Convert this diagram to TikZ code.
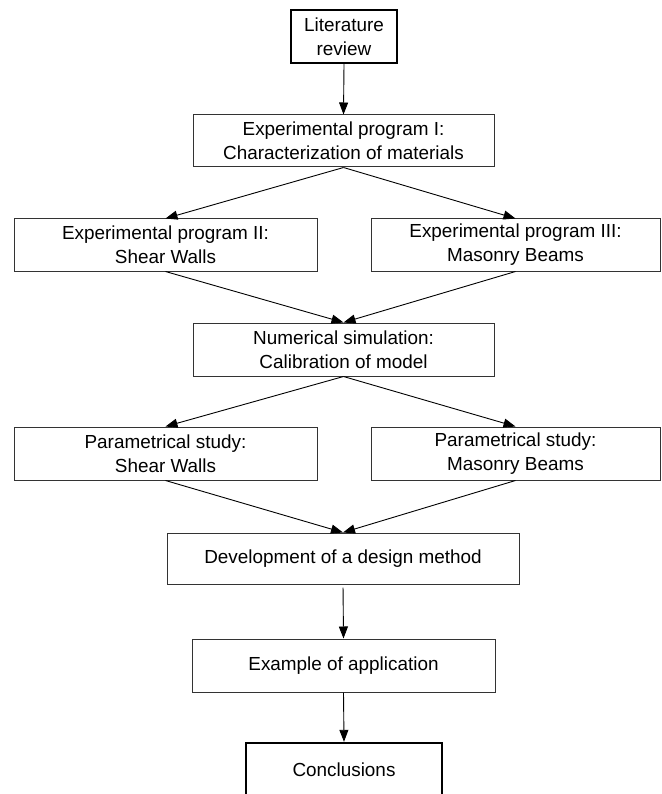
\documentclass[tikz,border=0pt]{standalone}
\usepackage{fontspec}
\setmainfont{Liberation Sans}
\usetikzlibrary{arrows.meta}
\begin{document}
\begin{tikzpicture}[x=1pt,y=-1pt,
  box/.style={draw=black!80, line width=1pt, rectangle, align=center, inner sep=0pt,
    font=\fontsize{18.9}{24}\selectfont},
  thickbox/.style={box, draw=black, line width=2.4pt},
  arr/.style={draw=black, line width=0.9pt, -{Triangle[length=12pt,width=9pt]}}]
\useasboundingbox (0,0) rectangle (661,794);
\node[thickbox, minimum width=106pt, minimum height=53pt] (lit) at (344,36.5) {Literature\\review};
\node[box, minimum width=301pt, minimum height=52pt] (e1) at (343.5,141) {Experimental program I:\\Characterization of materials};
\node[box, minimum width=303pt, minimum height=52pt] (e2) at (165.5,245) {Experimental program II:\\Shear Walls};
\node[box, minimum width=289pt, minimum height=52pt] (e3) at (515.5,245) {Experimental program III:\\Masonry Beams};
\node[box, minimum width=301pt, minimum height=53pt] (num) at (343.5,349.5) {Numerical simulation:\\Calibration of model};
\node[box, minimum width=303pt, minimum height=53pt] (p1) at (165.5,453.5) {Parametrical study:\\Shear Walls};
\node[box, minimum width=289pt, minimum height=53pt] (p2) at (515.5,453.5) {Parametrical study:\\Masonry Beams};
\node[box, minimum width=352pt, minimum height=51pt] (dev) at (343,558.5) {Development of a design method};
\node[box, minimum width=303pt, minimum height=53pt] (ex) at (343.5,665.5) {Example of application};
\node[thickbox, minimum width=196pt, minimum height=54pt] (con) at (344,770) {Conclusions};
\draw[arr] (lit.south) -- (e1.north);
\draw[arr] (e1.south) -- (e2.north);
\draw[arr] (e1.south) -- (e3.north);
\draw[arr] (e2.south) -- (num.north);
\draw[arr] (e3.south) -- (num.north);
\draw[arr] (num.south) -- (p1.north);
\draw[arr] (num.south) -- (p2.north);
\draw[arr] (p1.south) -- (dev.north);
\draw[arr] (p2.south) -- (dev.north);
\draw[arr, shorten <=3pt] (dev.south) -- (ex.north);
\draw[arr] (ex.south) -- (con.north);
\end{tikzpicture}
\end{document}
